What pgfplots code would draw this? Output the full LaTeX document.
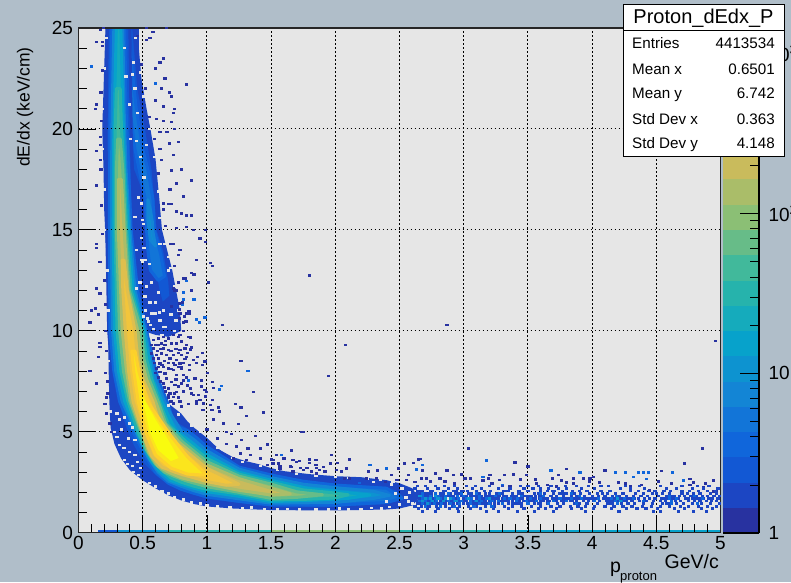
\documentclass[border=0pt]{standalone}
\usepackage{fontspec}
\setmainfont{Liberation Sans}
\usepackage{pgfplots}
\pgfplotsset{compat=1.18}
\definecolor{pagebg}{RGB}{176,190,201}
\definecolor{plotbg}{RGB}{230,230,230}
\definecolor{L1}{RGB}{40,50,160}
\definecolor{L2}{RGB}{28,70,195}
\definecolor{L3}{RGB}{18,88,212}
\definecolor{L4}{RGB}{16,102,219}
\definecolor{L5}{RGB}{18,117,216}
\definecolor{L6}{RGB}{19,133,213}
\definecolor{L7}{RGB}{13,147,208}
\definecolor{L8}{RGB}{7,162,203}
\definecolor{L9}{RGB}{21,171,188}
\definecolor{L10}{RGB}{38,179,172}
\definecolor{L11}{RGB}{65,185,155}
\definecolor{L12}{RGB}{103,188,136}
\definecolor{L13}{RGB}{139,191,117}
\definecolor{L14}{RGB}{170,189,105}
\definecolor{L15}{RGB}{201,187,92}
\definecolor{L16}{RGB}{223,191,77}
\definecolor{L17}{RGB}{242,197,60}
\definecolor{L18}{RGB}{253,208,44}
\definecolor{L19}{RGB}{251,229,29}
\definecolor{L20}{RGB}{249,251,14}
\pgfdeclareplotmark{bin}{\pgfpathrectangle{\pgfpoint{-1.6pt}{-1.25pt}}{\pgfpoint{3.2pt}{2.5pt}}\pgfusepathqfill}
\pgfplotsset{band/.style 2 args={fill=#1,draw=#2,line width=3pt,line join=round}}
\begin{document}
\begin{tikzpicture}[x=1pt,y=1pt]
\useasboundingbox (0,0) rectangle (791,582);
\clip (0,0) rectangle (791,582);
\fill[pagebg] (0,0) rectangle (791,582);
\begin{axis}[
  at={(78.5pt,49.3pt)},anchor=south west,scale only axis,width=642pt,height=504.7pt,
  xmin=0,xmax=5,ymin=0,ymax=25,
  axis background/.style={fill=plotbg},
  axis on top,
  xtick={0,0.5,...,5},ytick={0,5,...,25},
  xticklabels={0,0.5,1,1.5,2,2.5,3,3.5,4,4.5,5},
  yticklabels={0,5,10,15,20,25},
  minor x tick num=4,minor y tick num=4,
  xtick pos=bottom,ytick pos=left,tick align=inside,
  major tick length=17.5pt,minor tick length=8.5pt,
  tick style={black,line width=0.8pt},
  axis line style={black!85,line width=1.4pt},
  xmajorgrids,ymajorgrids,
  grid style={black,line width=1.1pt,dash pattern=on 1.3pt off 2.7pt},
  tick label style={font=\fontsize{19}{19}\selectfont},
  yticklabel style={xshift=-2pt},
  /pgf/number format/assume math mode=true,
]
% underflow row along y=0
\addplot[line width=2.2pt,L3] coordinates {(0.15,0.06)(0.3,0.06)};
\addplot[line width=2.2pt,L7] coordinates {(0.3,0.06)(0.7,0.06)};
\addplot[line width=2.2pt,L10] coordinates {(0.7,0.06)(1.5,0.06)};
\addplot[line width=2.2pt,L13] coordinates {(1.5,0.06)(2.5,0.06)};
\addplot[line width=2.2pt,L10] coordinates {(2.5,0.06)(3.2,0.06)};
\addplot[line width=2.2pt,L8] coordinates {(3.2,0.06)(5,0.06)};
% outer level, main band
\addplot[fill=L2,draw=none] coordinates {(0.21,25)(0.195,22)(0.185,20)(0.195,18)(0.20,16)(0.215,14)(0.225,12)(0.23,10)(0.235,8)(0.24,6.5)(0.25,5.2)(0.28,4.4)(0.33,3.7)(0.40,3.1)(0.5,2.6)(0.6,2.2)(0.7,1.85)(0.8,1.6)(0.9,1.42)(1.0,1.3)(1.2,1.2)(1.5,1.12)(2,1.1)(2.4,1.15)(2.5,1.2)(2.6,1.35)(2.65,1.7)(2.6,2.2)(2.5,2.45)(2.4,2.6)(2.2,2.75)(2.0,2.8)(1.8,2.9)(1.6,3.05)(1.5,3.2)(1.4,3.4)(1.3,3.55)(1.2,3.75)(1.1,4.1)(1.0,4.7)(0.9,5.2)(0.85,5.5)(0.8,5.9)(0.72,6.3)(0.66,6.7)(0.61,7.0)(0.57,8.2)(0.53,10)(0.50,12)(0.47,13.5)(0.47,15)(0.47,25)} -- cycle;
% outer level, second band
\addplot[fill=L2,draw=none] coordinates {(0.35,25)(0.44,25)(0.47,24)(0.49,22.5)(0.53,21)(0.56,20)(0.60,18.5)(0.63,16.5)(0.65,15)(0.69,14)(0.73,13)(0.76,12)(0.79,11)(0.80,10)(0.70,9.7)(0.60,9.8)(0.50,10)(0.45,13)} -- cycle;
% second band, inner levels
\addplot[band={L3}{L2}] coordinates {(0.36,25)(0.43,25)(0.47,22)(0.53,20)(0.58,18)(0.61,16)(0.62,15)(0.67,14)(0.71,12.5)(0.72,11.7)(0.65,11.3)(0.62,12)(0.56,14)(0.52,15.5)(0.48,17)(0.42,18)} -- cycle;
\addplot[band={L5}{L4}] coordinates {(0.40,24)(0.45,21)(0.50,19)(0.54,18)(0.58,16.5)(0.59,15)(0.64,13.8)(0.67,12.7)(0.62,12.5)(0.56,13)(0.54,14)(0.53,15)(0.52,16.5)(0.44,19)(0.38,22)} -- cycle;
\addplot[band={L7}{L6}] coordinates {(0.54,16.5)(0.56,16)(0.575,15.4)(0.58,14.9)(0.60,14.2)(0.56,14.5)(0.54,15.5)} -- cycle;
% holes in the sparse parts
\addplot[only marks,mark=bin,color=plotbg] coordinates {
(0.32,4.34)(0.40,4.0)(0.36,3.6)(0.44,3.85)(0.48,3.2)(0.39,4.67)(0.44,4.6)(0.336,5.1)(0.40,5.4)(0.32,5.6)(0.30,5.9)(0.30,4.75)(0.60,2.28)(0.355,4.2)(0.38,3.4)(0.42,3.3)(0.46,3.5)(0.36,5.7)(0.42,5.2)(0.28,5.0)
(.492,16.3)(.44,15.65)(.505,15.3)(.453,14.0)(.492,13.5)(.518,13.5)(.479,12.4)(.453,12.1)(.518,11.7)(.557,11.4)(.57,10.86)(.505,10.7)(.544,10.45)(.583,10.1)(.596,10.86)(.635,10.5)(.66,10.2)(.70,13.0)(.70,13.66)(.635,14.3)
(0.50,15.5)(0.49,14.6)(0.51,14.1)(0.47,16.6)(0.53,12.2)(0.55,13.3)(0.50,13.4)(0.52,11.0)(0.56,10.3)(0.54,10.6)(0.63,10.9)(0.68,10.2)(0.72,10.8)(0.76,10.5)(0.66,11.0)(0.60,11.4)(0.57,12.4)(0.62,11.9)
(0.48,18.6)(0.51,17.6)(0.45,19.4)(0.53,19.2)(0.46,20.8)(0.44,22.0)(0.42,22.7)(0.37,22.6)(0.36,24.0)(0.43,23.3)(0.405,19.5)(0.40,21.2)
(.445,24.5)(.48,22.8)(.51,21.6)(.55,20.0)(.59,18.6)(.62,16.9)(.63,15.6)(.67,14.3)(.72,13.1)(.75,12.2)(.78,11)(.75,10)(.65,9.8)
(0.245,6)(0.235,8.5)(0.23,11)(0.222,13)(0.205,15)(0.2,17)(0.19,19)(0.19,21)(0.2,23)(0.215,24.5)
(1.08,4.2)(1.2,3.7)(1.28,3.5)(1.42,3.3)(1.55,3.1)(1.7,2.9)(1.85,2.82)(2.0,2.75)(2.1,2.7)(2.25,2.68)(2.35,2.62)(2.45,2.5)(0.95,5.0)(0.88,5.3)(0.78,5.85)(0.7,6.3)
(1.18,1.25)(1.08,1.3)(1.0,1.36)(0.95,1.45)(0.88,1.5)(0.82,1.65)(0.75,1.75)(0.7,1.95)(0.65,2.05)(0.6,2.3)(0.55,2.45)(0.47,2.85)(0.43,3.0)(1.28,1.2)(1.35,1.25)(1.45,1.18)(1.55,1.15)(1.63,1.18)(1.72,1.14)(1.85,1.15)(1.95,1.14)(2.03,1.2)(2.1,1.14)(2.2,1.15)(2.28,1.22)(2.36,1.2)
};
% dark cells
\addplot[only marks,mark=bin,color=L1] coordinates {
(.92,13.5)(1.025,13.37)(1.045,13.2)(.88,12.87)(.90,12.8)(.82,12.6)(1.01,12.4)(.88,12.0)(.765,12.0)(.74,12.1)(.785,11.05)(.86,10.95)(.86,10.85)(.825,10.7)(.837,10.45)(1.12,10.3)(.785,10.6)(.82,10.0)(.855,9.7)(.87,9.67)(.79,9.8)(.965,8.9)(.925,8.7)(.985,8.47)(1.266,8.5)(.92,8.4)(.965,8.3)(.864,8.3)(1.006,7.9)(.864,8.05)(.80,8.2)(.78,8.2)(.817,8.4)(.907,7.65)(.96,7.55)(.817,7.55)(.88,9.18)(.843,9.3)(.87,9.08)(.895,8.55)(1.045,7.47)(1.05,7.18)(1.362,6.98)(.985,7.06)(.998,6.98)(.96,7.23)(.87,7.15)(.817,7.0)(1.045,6.57)(1.225,6.37)(1.266,6.2)(1.09,6.2)(1.025,6.32)(.972,6.4)(.92,6.5)(.947,6.57)(.895,6.82)(.933,6.82)(.855,6.37)(.80,6.24)(.74,6.73)(.70,6.82)
(.583,9.54)(.622,9.62)(.66,9.7)(.70,9.62)(.74,9.79)(.778,9.7)(.57,9.29)(.648,9.37)(.674,9.29)(.726,9.37)(.765,9.37)(.804,9.46)(.83,9.13)(.583,9.13)(.66,9.13)(.70,9.04)(.79,9.04)(.57,8.88)(.609,8.8)(.648,8.88)(.687,8.8)(.74,8.8)(.804,8.8)(.843,8.7)(.583,8.63)(.622,8.63)(.713,8.63)(.765,8.55)(.79,8.38)(.752,8.3)(.804,8.14)(.635,8.38)(.66,8.22)(.70,8.14)(.74,8.05)(.609,8.14)(.635,7.97)(.674,7.89)(.765,7.8)(.687,7.64)(.726,7.47)(.752,7.31)(.66,7.4)(.70,7.15)(.778,7.23)(.804,7.4)(.713,6.9)(.765,6.98)(.74,6.4)(.79,6.49)
(.60,9.3)(.615,9.0)(.59,8.4)(.60,7.9)(.62,7.7)(.64,7.5)(.67,7.2)(.68,7.0)(.70,6.7)(.72,6.5)(.745,6.9)(.78,6.7)(.76,7.6)(.82,7.8)(.84,7.7)(.85,7.3)(.83,8.6)(.85,8.9)(.78,8.9)(.76,9.1)(.68,9.5)(.62,9.3)(.64,9.1)(.72,9.0)(.74,8.4)(.72,8.1)(.70,8.4)(.67,8.5)(.65,8.3)(.62,8.2)
(.66,16.3)(.70,16.27)(.726,16.27)(.765,15.9)(.80,15.8)(.843,15.7)(.88,15.7)(.765,15.1)(.843,15.15)(.895,15.0)(.986,15.0)(.947,14.57)(.986,14.4)(.74,14.3)(.79,14.0)(.778,13.75)(.92,13.5)(1.025,13.37)(1.045,13.2)(.83,12.6)(.90,12.8)(.88,12.0)(.75,12.0)(.79,11.35)(.843,10.86)(.726,11.2)(.79,10.86)
(.167,13.4)(.14,14.3)(.14,14.1)(.10,11.0)(.13,11.1)(.09,10.4)(.155,10.8)(.21,11.3)(.167,11.85)(.14,12.1)(.167,9.4)(.167,9.2)(.155,8.7)(.09,8.0)(.14,7.4)(.21,7.9)
(.17,24.9)(.14,24.3)(.19,24.3)(.53,24.4)(.557,24.5)(.58,24.8)(.66,23.5)(.635,23.3)(.60,23.0)(.843,22.2)(.71,21.8)(.648,22.0)(.726,21.6)(.674,22.5)(.75,21.0)(.74,20.8)(.66,21.1)(.60,21.4)(.66,20.4)(.726,20.35)(.61,20.5)(.69,19.85)(.75,20.0)(.635,19.85)(.78,19.35)(.71,19.27)(.635,19.0)(.74,18.7)(.648,18.45)(.80,18.0)(.726,17.95)(.88,17.45)(.765,17.3)(.713,17.0)(.817,16.65)(.13,21.0)(.14,21.2)(.14,18.9)(.17,18.45)(.14,17.2)(.18,20.4)(.17,19.6)(.687,25)(.53,25)
(.142,7.36)(.207,6.37)(.22,5.9)(.245,5.4)(.26,5.0)(.23,6.9)(.225,7.5)
(.215,6.7)(.215,9)(.21,10)(.205,12.5)(.19,14.8)(.18,16.2)(.175,18)(.17,19.2)(.175,21.8)(.185,22.9)(.19,24.1)(.195,25)
(.46,24.6)(.49,23.2)(.52,22)(.55,20.6)(.59,19.5)(.62,17.8)(.66,16)(.68,15.2)(.72,14.3)(.75,13.2)(.78,12.4)(.81,11.4)(.82,10.4)
(1.44,5.96)(1.31,5.78)(1.245,5.38)(1.13,5.4)(1.05,5.6)(.97,6.07)(1.04,6.07)(1.10,6.0)(.92,6.4)(.986,6.74)(.88,6.9)(1.0,5.1)(1.155,5.0)(1.19,4.9)(1.27,4.6)(1.38,4.8)(1.47,4.37)(1.415,4.18)(1.32,4.18)(1.23,4.26)(1.155,4.4)(1.08,4.67)(1.66,4.05)(1.545,3.85)(1.6,3.68)(1.70,3.5)(1.75,5.0)(1.8,3.6)(1.856,3.6)(1.52,3.6)(1.415,3.68)(1.34,3.85)(1.26,3.93)(1.21,3.68)(1.31,3.6)(1.65,3.27)(1.73,3.2)(1.57,3.27)(1.78,3.2)(1.856,3.2)(1.856,2.94)(1.47,3.35)(1.67,3.02)
(1.74,4.98)(1.66,4.06)(1.54,3.84)(1.50,3.63)(1.515,3.43)(1.555,3.43)(1.607,3.68)(1.67,3.6)(1.72,3.56)(1.80,3.63)(1.80,3.46)(1.85,3.6)(1.85,3.35)(1.97,3.84)(1.96,3.43)(2.02,3.46)(2.11,3.63)(2.33,3.07)(2.26,3.02)(2.54,3.43)(2.61,3.46)(2.65,3.63)(2.49,3.18)(2.44,2.85)(2.57,2.85)(1.57,3.18)(1.66,3.26)(1.75,3.1)(1.815,3.02)(1.88,3.1)(1.92,3.02)(1.905,3.26)(2.05,3.02)(2.09,3.18)(2.01,3.1)(2.11,2.69)(2.24,2.69)(2.32,2.69)(2.39,2.52)(2.48,2.6)(2.555,2.6)(2.62,2.52)(2.07,2.69)
(1.8,12.75)(2.87,10.3)(2.08,9.3)(1.95,7.75)(4.96,9.5)(3.04,4.18)(2.66,3.65)(3.40,3.47)(3.50,3.27)(3.80,3.15)(3.74,2.86)(2.87,3.07)(2.68,3.07)(2.78,2.94)(2.92,2.86)(2.985,2.89)(3.205,2.86)(3.32,2.86)(3.39,2.89)(3.49,2.86)(3.69,2.69)(3.56,2.64)(3.01,2.69)(3.05,2.69)(3.28,2.61)(3.44,2.64)(3.76,2.58)(3.80,2.48)(2.67,2.69)(2.71,2.69)(2.815,2.69)(2.74,2.53)(2.855,2.53)(2.93,2.44)(3.15,2.58)(3.19,2.69)(3.22,2.44)(3.36,2.28)(3.57,2.44)(3.65,2.36)(3.72,2.28)
(4.86,4.18)(4.72,3.43)(4.10,3.07)(4.54,3.06)(4.01,2.77)(3.854,2.69)(3.93,2.69)(3.984,2.69)(4.06,2.48)(4.205,2.48)(4.257,2.44)(4.386,2.36)(4.516,2.53)(4.62,2.44)(4.763,2.66)(4.79,2.48)(4.88,2.44)(4.945,2.58)(3.854,2.44)(3.98,2.53)(4.30,2.28)(4.45,2.1)(4.763,2.36)(4.867,2.25)(4.945,2.03)(4.97,2.03)
};
% lighter isolated cells
\addplot[only marks,mark=bin,color=L4] coordinates {
(.843,12.48)(.817,11.9)(.817,11.55)(.90,11.55)(.81,11.27)(.92,10.56)(.985,10.66)(.94,10.4)(1.32,8.0)(.855,7.55)(1.115,7.26)(1.10,7.1)(.10,23.1)(.60,22.25)(1.58,3.84)(2.27,3.35)(2.19,2.47)(2.40,3.18)(2.63,3.13)(2.68,3.35)(3.18,3.57)(3.15,2.77)(3.30,2.36)(3.68,3.07)(3.906,2.97)(4.18,2.97)(4.257,2.97)(4.36,2.97)(4.40,2.97)(4.44,2.97)(4.625,2.97)(4.32,2.77)(4.71,2.58)(4.425,2.66)
};
% tail, dark
\addplot[only marks,mark=bin,color=L2] coordinates {
(2.64,2.31)(2.70,2.31)(2.78,2.31)(2.85,2.31)(2.93,2.31)(3.02,2.31)(3.09,2.31)(3.20,2.31)(3.30,2.31)(3.44,2.31)(3.50,2.31)(3.58,2.31)(3.68,2.31)(3.79,2.31)(3.88,2.31)(3.97,2.31)(4.07,2.31)(4.13,2.31)(4.26,2.31)(4.37,2.31)(4.53,2.31)(4.70,2.31)(4.82,2.31)(4.91,2.31)
(2.62,2.19)(2.72,2.19)(2.80,2.19)(2.88,2.19)(2.95,2.19)(3.07,2.19)(3.14,2.19)(3.27,2.19)(3.36,2.19)(3.47,2.19)(3.54,2.19)(3.60,2.19)(3.66,2.19)(3.74,2.19)(3.80,2.19)(3.92,2.19)(4.02,2.19)(4.22,2.19)(4.30,2.19)(4.41,2.19)(4.58,2.19)(4.66,2.19)(4.78,2.19)(4.87,2.19)(4.98,2.19)
(2.64,2.06)(2.68,2.06)(2.76,2.06)(2.86,2.06)(2.94,2.06)(2.98,2.06)(3.03,2.06)(3.10,2.06)(3.16,2.06)(3.21,2.06)(3.31,2.06)(3.35,2.06)(3.43,2.06)(3.50,2.06)(3.60,2.06)(3.65,2.06)(3.71,2.06)(3.77,2.06)(3.85,2.06)(3.90,2.06)(3.96,2.06)(4.07,2.06)(4.14,2.06)(4.30,2.06)(4.36,2.06)(4.44,2.06)(4.49,2.06)(4.56,2.06)(4.61,2.06)(4.70,2.06)(4.76,2.06)(4.83,2.06)(4.90,2.06)(4.96,2.06)
(2.62,1.94)(2.66,1.94)(2.70,1.94)(2.75,1.94)(2.84,1.94)(2.90,1.94)(2.96,1.94)(3.06,1.94)(3.12,1.94)(3.17,1.94)(3.26,1.94)(3.30,1.94)(3.38,1.94)(3.43,1.94)(3.46,1.94)(3.55,1.94)(3.58,1.94)(3.63,1.94)(3.70,1.94)(3.75,1.94)(3.80,1.94)(3.86,1.94)(3.91,1.94)(3.98,1.94)(4.04,1.94)(4.08,1.94)(4.12,1.94)(4.18,1.94)(4.24,1.94)(4.34,1.94)(4.40,1.94)(4.47,1.94)(4.50,1.94)(4.55,1.94)(4.60,1.94)(4.70,1.94)(4.74,1.94)(4.79,1.94)(4.84,1.94)(4.92,1.94)(4.97,1.94)
(2.64,1.81)(2.72,1.81)(2.78,1.81)(2.82,1.81)(2.88,1.81)(2.92,1.81)(2.98,1.81)(3.02,1.81)(3.08,1.81)(3.14,1.81)(3.19,1.81)(3.23,1.81)(3.28,1.81)(3.33,1.81)(3.37,1.81)(3.41,1.81)(3.48,1.81)(3.53,1.81)(3.56,1.81)(3.61,1.81)(3.68,1.81)(3.72,1.81)(3.78,1.81)(3.84,1.81)(3.88,1.81)(3.94,1.81)(4.00,1.81)(4.05,1.81)(4.10,1.81)(4.16,1.81)(4.21,1.81)(4.27,1.81)(4.32,1.81)(4.38,1.81)(4.43,1.81)(4.52,1.81)(4.58,1.81)(4.64,1.81)(4.68,1.81)(4.72,1.81)(4.77,1.81)(4.81,1.81)(4.86,1.81)(4.90,1.81)(4.95,1.81)(4.99,1.81)
(2.66,1.69)(2.70,1.69)(2.76,1.69)(2.80,1.69)(2.84,1.69)(2.90,1.69)(2.94,1.69)(3.00,1.69)(3.04,1.69)(3.10,1.69)(3.15,1.69)(3.20,1.69)(3.25,1.69)(3.30,1.69)(3.34,1.69)(3.39,1.69)(3.44,1.69)(3.50,1.69)(3.54,1.69)(3.59,1.69)(3.63,1.69)(3.69,1.69)(3.73,1.69)(3.77,1.69)(3.82,1.69)(3.86,1.69)(3.90,1.69)(3.94,1.69)(3.99,1.69)(4.03,1.69)(4.09,1.69)(4.13,1.69)(4.17,1.69)(4.22,1.69)(4.26,1.69)(4.30,1.69)(4.36,1.69)(4.41,1.69)(4.45,1.69)(4.49,1.69)(4.54,1.69)(4.59,1.69)(4.63,1.69)(4.67,1.69)(4.73,1.69)(4.78,1.69)(4.82,1.69)(4.87,1.69)(4.91,1.69)(4.94,1.69)(4.98,1.69)
(2.62,1.56)(2.67,1.56)(2.72,1.56)(2.77,1.56)(2.82,1.56)(2.87,1.56)(2.91,1.56)(2.97,1.56)(3.02,1.56)(3.07,1.56)(3.12,1.56)(3.17,1.56)(3.24,1.56)(3.28,1.56)(3.33,1.56)(3.38,1.56)(3.43,1.56)(3.47,1.56)(3.52,1.56)(3.56,1.56)(3.62,1.56)(3.67,1.56)(3.72,1.56)(3.76,1.56)(3.83,1.56)(3.88,1.56)(3.93,1.56)(3.97,1.56)(4.01,1.56)(4.06,1.56)(4.11,1.56)(4.15,1.56)(4.20,1.56)(4.25,1.56)(4.31,1.56)(4.37,1.56)(4.42,1.56)(4.48,1.56)(4.53,1.56)(4.57,1.56)(4.65,1.56)(4.69,1.56)(4.75,1.56)(4.80,1.56)(4.84,1.56)(4.89,1.56)(4.93,1.56)(4.97,1.56)
(2.64,1.44)(2.69,1.44)(2.74,1.44)(2.79,1.44)(2.86,1.44)(2.92,1.44)(2.95,1.44)(3.00,1.44)(3.06,1.44)(3.11,1.44)(3.16,1.44)(3.21,1.44)(3.27,1.44)(3.35,1.44)(3.40,1.44)(3.45,1.44)(3.55,1.44)(3.60,1.44)(3.65,1.44)(3.73,1.44)(3.78,1.44)(3.86,1.44)(3.90,1.44)(3.96,1.44)(4.04,1.44)(4.12,1.44)(4.16,1.44)(4.23,1.44)(4.28,1.44)(4.33,1.44)(4.40,1.44)(4.47,1.44)(4.55,1.44)(4.60,1.44)(4.66,1.44)(4.71,1.44)(4.78,1.44)(4.85,1.44)(4.92,1.44)(4.99,1.44)
(2.62,1.31)(2.67,1.31)(2.73,1.31)(2.79,1.31)(2.86,1.31)(2.91,1.31)(2.97,1.31)(3.04,1.31)(3.10,1.31)(3.17,1.31)(3.24,1.31)(3.32,1.31)(3.38,1.31)(3.45,1.31)(3.53,1.31)(3.60,1.31)(3.68,1.31)(3.75,1.31)(3.83,1.31)(3.89,1.31)(3.95,1.31)(4.02,1.31)(4.10,1.31)(4.17,1.31)(4.24,1.31)(4.31,1.31)(4.39,1.31)(4.46,1.31)(4.53,1.31)(4.60,1.31)(4.69,1.31)(4.75,1.31)(4.83,1.31)(4.90,1.31)(4.97,1.31)
(2.65,1.19)(2.72,1.19)(2.80,1.19)(2.89,1.19)(2.95,1.19)(3.05,1.19)(3.13,1.19)(3.23,1.19)(3.35,1.19)(3.47,1.19)(3.58,1.19)(3.64,1.19)(3.72,1.19)(3.84,1.19)(3.92,1.19)(4.01,1.19)(4.15,1.19)(4.27,1.19)(4.35,1.19)(4.42,1.19)(4.51,1.19)(4.64,1.19)(4.72,1.19)(4.85,1.19)(4.94,1.19)
(2.68,1.06)(2.78,1.06)(2.96,1.06)(3.18,1.06)(3.27,1.06)(3.42,1.06)(3.55,1.06)(3.70,1.06)(3.95,1.06)(4.21,1.06)(4.48,1.06)(4.53,1.06)(4.67,1.06)(4.79,1.06)(4.89,1.06)
(2.68,1.69)(2.72,1.69)(2.78,1.69)(2.86,1.69)(2.92,1.69)(2.96,1.69)(3.02,1.69)(3.06,1.69)(3.12,1.69)(3.17,1.69)(3.22,1.69)(3.27,1.69)(3.32,1.69)(3.36,1.69)(3.41,1.69)(3.46,1.69)(3.52,1.69)(3.56,1.69)(3.61,1.69)(3.65,1.69)(3.71,1.69)(3.75,1.69)(3.79,1.69)(3.84,1.69)(3.88,1.69)(3.92,1.69)(3.96,1.69)(4.01,1.69)(4.05,1.69)(4.11,1.69)(4.15,1.69)(4.19,1.69)(4.24,1.69)(4.28,1.69)(4.33,1.69)(4.56,1.69)(4.61,1.69)(4.65,1.69)(4.75,1.69)(4.80,1.69)(4.84,1.69)
(2.64,1.56)(2.69,1.56)(2.74,1.56)(2.79,1.56)(2.85,1.56)(2.89,1.56)(2.95,1.56)(3.00,1.56)(3.05,1.56)(3.10,1.56)(3.15,1.56)(3.20,1.56)(3.30,1.56)(3.35,1.56)(3.41,1.56)(3.50,1.56)(3.54,1.56)(3.60,1.56)(3.65,1.56)(3.70,1.56)(3.78,1.56)(3.85,1.56)(4.13,1.56)(4.17,1.56)(4.22,1.56)(4.27,1.56)
(2.66,1.44)(2.71,1.44)(2.76,1.44)(2.81,1.44)(2.84,1.44)(2.89,1.44)(2.97,1.44)(3.03,1.44)(3.08,1.44)(3.14,1.44)(3.18,1.44)(3.24,1.44)(3.30,1.44)(3.38,1.44)(3.43,1.44)(3.58,1.44)(4.14,1.44)(4.58,1.44)
(2.66,1.81)(2.70,1.81)(2.75,1.81)(2.84,1.81)(2.90,1.81)(2.95,1.81)(3.05,1.81)(3.11,1.81)(3.17,1.81)(3.21,1.81)(3.26,1.81)(3.31,1.81)(3.39,1.81)(3.46,1.81)(3.50,1.81)(3.59,1.81)(4.19,1.81)(4.62,1.81)(4.79,1.81)
(2.64,1.94)(2.68,1.94)(2.73,1.94)(2.82,1.94)(2.88,1.94)(2.94,1.94)(3.04,1.94)(3.10,1.94)(3.20,1.94)(3.60,1.94)(3.78,1.94)
(2.66,2.06)(2.74,2.06)(2.84,2.06)(2.92,2.06)(3.00,2.06)(3.33,2.06)(3.69,2.06)
};
\addplot[only marks,mark=bin,color=L4] coordinates {
(2.68,1.69)(2.72,1.69)(2.74,1.69)(2.78,1.69)(2.82,1.69)(2.86,1.69)(2.92,1.69)(2.96,1.69)(3.02,1.69)(3.06,1.69)(3.12,1.69)(3.18,1.69)(3.32,1.69)(3.36,1.69)(3.42,1.69)(3.52,1.69)(3.60,1.69)(3.75,1.69)(3.84,1.69)(3.92,1.69)(4.05,1.69)(4.15,1.69)(4.20,1.69)(4.25,1.69)(4.32,1.69)(4.60,1.69)(4.66,1.69)(4.86,1.69)
(2.66,1.56)(2.70,1.56)(2.75,1.56)(2.79,1.56)(2.84,1.56)(2.88,1.56)(2.93,1.56)(2.98,1.56)(3.05,1.56)(3.09,1.56)(3.14,1.56)(3.22,1.56)(3.27,1.56)(3.41,1.56)(3.49,1.56)(3.57,1.56)(3.70,1.56)(3.80,1.56)(4.02,1.56)(4.18,1.56)(4.23,1.56)(4.40,1.56)(4.62,1.56)
(2.68,1.81)(2.74,1.81)(2.80,1.81)(2.86,1.81)(2.95,1.81)(3.00,1.81)(3.12,1.81)(3.25,1.81)(3.45,1.81)(3.62,1.81)(3.90,1.81)(4.19,1.81)(4.60,1.81)(4.80,1.81)
(2.68,1.44)(2.73,1.44)(2.77,1.44)(2.83,1.44)(2.90,1.44)(2.97,1.44)(3.05,1.44)(3.12,1.44)(3.20,1.44)(3.30,1.44)(3.50,1.44)(3.66,1.44)(3.88,1.44)(4.20,1.44)(4.62,1.44)(4.82,1.44)
(2.68,1.94)(2.78,1.94)(2.88,1.94)(2.98,1.94)(3.10,1.94)(3.28,1.94)(3.60,1.94)(3.84,1.94)(2.70,1.31)(2.82,1.31)(2.93,1.31)(3.08,1.31)(3.22,1.31)
};
\addplot[only marks,mark=bin,color=L7] coordinates {
(2.70,1.69)(2.74,1.69)(2.76,1.56)(2.80,1.69)(2.84,1.56)(2.86,1.69)(2.78,1.81)(2.90,1.69)(2.94,1.56)(2.72,1.44)(3.04,1.69)(3.10,1.56)(3.20,1.69)(4.20,1.69)(4.22,1.56)(2.66,1.81)(2.68,1.56)
};
% main band
\addplot[band={L3}{L2}] coordinates {(0.225,25)(0.215,20)(0.22,15)(0.235,10)(0.26,8)(0.30,6.5)(0.36,5.2)(0.42,4.3)(0.5,3.4)(0.6,2.75)(0.7,2.3)(0.8,2.0)(0.9,1.8)(1.0,1.6)(1.25,1.4)(1.5,1.25)(2.0,1.2)(2.4,1.35)(2.5,1.55)(2.55,1.8)(2.48,2.15)(2.4,2.35)(2.0,2.5)(1.75,2.65)(1.5,2.98)(1.25,3.35)(1.0,4.45)(0.93,4.85)(0.85,5.25)(0.75,5.6)(0.70,6.2)(0.62,7.3)(0.56,8.6)(0.53,10)(0.48,12)(0.44,14)(0.43,15)(0.42,17)(0.41,20)(0.40,25)} -- cycle;
\addplot[band={L5}{L4}] coordinates {(0.26,25)(0.245,20)(0.24,15)(0.245,10)(0.275,8)(0.32,6.5)(0.40,5.3)(0.465,4.5)(0.53,3.7)(0.6,3.0)(0.7,2.45)(0.8,2.15)(0.9,1.95)(1.0,1.78)(1.25,1.55)(1.5,1.37)(2.0,1.37)(2.4,1.5)(2.52,1.7)(2.4,2.2)(2.0,2.36)(1.75,2.55)(1.5,2.86)(1.25,3.25)(1.0,4.26)(0.92,4.7)(0.85,5.05)(0.75,5.3)(0.69,6.5)(0.62,7.6)(0.58,8.6)(0.53,10)(0.46,12)(0.41,15)(0.39,18)(0.37,21)(0.36,25)} -- cycle;
\addplot[band={L7}{L6}] coordinates {(0.275,25)(0.26,20)(0.255,15)(0.265,10)(0.29,8)(0.34,6.5)(0.44,5.1)(0.475,4.6)(0.545,3.7)(0.62,3.0)(0.7,2.55)(0.8,2.3)(0.9,2.08)(1,1.9)(1.25,1.68)(1.5,1.46)(2,1.5)(2.3,1.7)(2.42,1.85)(2.3,2.05)(2,2.23)(1.75,2.4)(1.5,2.73)(1.25,3.15)(1,4.05)(0.9,4.6)(0.8,5.05)(0.72,5.85)(0.67,6.5)(0.6,7.6)(0.56,8.6)(0.52,10)(0.44,12)(0.40,15)(0.37,18)(0.355,21)(0.345,25)} -- cycle;
\addplot[band={L9}{L8}] coordinates {(0.295,25)(0.275,20)(0.27,15)(0.28,10)(0.31,8)(0.36,6.5)(0.455,5.0)(0.49,4.5)(0.56,3.6)(0.63,3.05)(0.72,2.58)(0.8,2.4)(0.9,2.2)(1,2.03)(1.25,1.8)(1.5,1.54)(1.8,1.6)(2.1,1.7)(2.27,1.87)(2.1,1.98)(1.8,2.18)(1.5,2.6)(1.25,3.0)(1,3.85)(0.865,4.55)(0.75,5.1)(0.65,6.5)(0.58,7.6)(0.55,8.6)(0.51,10)(0.425,12)(0.39,15)(0.36,18)(0.345,21)(0.33,25)} -- cycle;
\addplot[band={L11}{L10}] coordinates {(0.295,22)(0.285,20)(0.285,15)(0.30,10)(0.33,8)(0.385,6.5)(0.47,4.9)(0.51,4.3)(0.58,3.55)(0.65,3.1)(0.72,2.72)(0.8,2.5)(0.9,2.3)(1,2.15)(1.25,1.92)(1.5,1.62)(1.75,1.65)(2.0,1.72)(2.1,1.88)(1.95,2.0)(1.75,2.12)(1.5,2.5)(1.25,2.9)(1,3.68)(0.84,4.5)(0.7,5.35)(0.63,6.5)(0.57,7.6)(0.53,8.6)(0.5,10)(0.41,12)(0.375,15)(0.355,18)(0.335,20)(0.325,22)} -- cycle;
\addplot[band={L13}{L12}] coordinates {(0.305,19.5)(0.295,18)(0.295,15)(0.32,10)(0.35,8)(0.40,6.5)(0.495,4.84)(0.53,4.1)(0.6,3.4)(0.67,3.0)(0.75,2.78)(0.85,2.55)(1,2.28)(1.25,2.0)(1.5,1.7)(1.7,1.75)(1.9,1.88)(1.7,2.02)(1.5,2.41)(1.25,2.8)(1,3.52)(0.81,4.5)(0.68,5.4)(0.62,6.5)(0.55,7.6)(0.51,8.6)(0.49,10)(0.395,12)(0.365,15)(0.345,18)(0.325,19.5)} -- cycle;
\addplot[band={L15}{L14}] coordinates {(0.31,17.5)(0.31,15)(0.34,10)(0.375,8)(0.41,6.5)(0.51,4.72)(0.55,3.95)(0.62,3.3)(0.7,3.0)(0.8,2.72)(1,2.42)(1.25,2.1)(1.5,1.87)(1.65,1.92)(1.5,2.2)(1.25,2.68)(1,3.35)(0.78,4.5)(0.66,5.5)(0.6,6.5)(0.53,7.6)(0.49,8.6)(0.46,10)(0.385,12)(0.355,15)(0.335,17.5)} -- cycle;
\addplot[band={L17}{L16}] coordinates {(0.34,13.5)(0.345,12)(0.365,10)(0.39,8)(0.425,6.5)(0.52,4.6)(0.57,3.8)(0.65,3.25)(0.75,3.0)(1,2.53)(1.15,2.35)(1.25,2.4)(1,3.19)(0.76,4.45)(0.62,5.6)(0.58,6.5)(0.5,7.6)(0.46,8.6)(0.44,10)(0.38,12)(0.355,13.5)} -- cycle;
\addplot[band={L19}{L18}] coordinates {(0.415,9)(0.43,8)(0.465,6.5)(0.53,4.9)(0.6,3.85)(0.72,3.2)(0.85,2.9)(1,2.85)(0.85,3.75)(0.72,4.8)(0.6,5.9)(0.54,6.5)(0.47,8)(0.44,9)} -- cycle;
\addplot[fill=L20,draw=none] coordinates {(0.49,6.8)(0.52,6.0)(0.555,5.0)(0.62,4.1)(0.72,3.55)(0.78,3.7)(0.68,4.8)(0.6,5.6)(0.53,6.4)} -- cycle;
% gaps at the far end of the band
\addplot[only marks,mark=bin,color=plotbg] coordinates {
(2.50,1.40)(2.55,1.75)(2.58,2.0)(2.52,2.2)(2.44,2.4)(2.30,2.5)(2.57,1.55)(2.42,1.28)(2.47,1.95)(2.40,1.55)(2.60,1.45)
};
\end{axis}
% colour bar
\begin{axis}[
  at={(723pt,49pt)},anchor=south west,scale only axis,width=36pt,height=505pt,
  ymode=log,xmin=0,xmax=1,ymin=1,ymax=1445,
  axis y line*=right,axis x line*=bottom,
  xtick=\empty,
  ytick={1,10,100,1000},yticklabels={1,10,10\textsuperscript{2},10\textsuperscript{3}},
  minor ytick={2,3,4,5,6,7,8,9,20,30,40,50,60,70,80,90,200,300,400,500,600,700,800,900},
  tick align=inside,major tick length=19pt,minor tick length=9.5pt,
  tick style={black,line width=0.8pt},
  axis line style={black,line width=1.2pt},
  tick label style={font=\fontsize{19}{19}\selectfont},
  yticklabel style={anchor=west,xshift=6pt},
  axis on top,
  /pgf/number format/assume math mode=true,
]
\addplot[fill=L1,draw=none] coordinates {(0,1)(1,1)(1,1.439)(0,1.439)} -- cycle;
\addplot[fill=L2,draw=none] coordinates {(0,1.439)(1,1.439)(1,2.07)(0,2.07)} -- cycle;
\addplot[fill=L3,draw=none] coordinates {(0,2.07)(1,2.07)(1,2.98)(0,2.98)} -- cycle;
\addplot[fill=L4,draw=none] coordinates {(0,2.98)(1,2.98)(1,4.29)(0,4.29)} -- cycle;
\addplot[fill=L5,draw=none] coordinates {(0,4.29)(1,4.29)(1,6.17)(0,6.17)} -- cycle;
\addplot[fill=L6,draw=none] coordinates {(0,6.17)(1,6.17)(1,8.87)(0,8.87)} -- cycle;
\addplot[fill=L7,draw=none] coordinates {(0,8.87)(1,8.87)(1,12.8)(0,12.8)} -- cycle;
\addplot[fill=L8,draw=none] coordinates {(0,12.8)(1,12.8)(1,18.4)(0,18.4)} -- cycle;
\addplot[fill=L9,draw=none] coordinates {(0,18.4)(1,18.4)(1,26.4)(0,26.4)} -- cycle;
\addplot[fill=L10,draw=none] coordinates {(0,26.4)(1,26.4)(1,38)(0,38)} -- cycle;
\addplot[fill=L11,draw=none] coordinates {(0,38)(1,38)(1,54.7)(0,54.7)} -- cycle;
\addplot[fill=L12,draw=none] coordinates {(0,54.7)(1,54.7)(1,78.7)(0,78.7)} -- cycle;
\addplot[fill=L13,draw=none] coordinates {(0,78.7)(1,78.7)(1,113)(0,113)} -- cycle;
\addplot[fill=L14,draw=none] coordinates {(0,113)(1,113)(1,163)(0,163)} -- cycle;
\addplot[fill=L15,draw=none] coordinates {(0,163)(1,163)(1,234)(0,234)} -- cycle;
\addplot[fill=L16,draw=none] coordinates {(0,234)(1,234)(1,337)(0,337)} -- cycle;
\addplot[fill=L17,draw=none] coordinates {(0,337)(1,337)(1,485)(0,485)} -- cycle;
\addplot[fill=L18,draw=none] coordinates {(0,485)(1,485)(1,698)(0,698)} -- cycle;
\addplot[fill=L19,draw=none] coordinates {(0,698)(1,698)(1,1004)(0,1004)} -- cycle;
\addplot[fill=L20,draw=none] coordinates {(0,1004)(1,1004)(1,1445)(0,1445)} -- cycle;
\end{axis}
% axis titles
\node[rotate=90,anchor=east,font=\fontsize{17.5}{17.5}\selectfont,inner sep=0pt] at (25,535) {dE/dx (keV/cm)};
\node[anchor=base east,font=\fontsize{19.5}{19.5}\selectfont,inner sep=0pt] at (719,14) {GeV/c};
\node[anchor=base west,font=\fontsize{19.5}{19.5}\selectfont,inner sep=0pt] at (610,10) {p};
\node[anchor=base west,font=\fontsize{13}{13}\selectfont,inner sep=0pt] at (620,2) {proton};
% statistics box
\fill[white] (623,425) rectangle (784,577);
\draw[black,line width=1pt] (623,425) rectangle (784,577);
\draw[black,line width=1pt] (623,551) -- (784,551);
\node[font=\fontsize{20}{20}\selectfont,inner sep=0pt] at (703.5,564) {Proton\_dEdx\_P};
\begin{scope}[every node/.style={font=\fontsize{15.2}{15.2}\selectfont,inner sep=0pt}]
\node[anchor=base west] at (632,533) {Entries};
\node[anchor=base east] at (775,533) {4413534};
\node[anchor=base west] at (632,507) {Mean x};
\node[anchor=base east] at (775,507) {0.6501};
\node[anchor=base west] at (632,483) {Mean y};
\node[anchor=base east] at (775,483) {6.742};
\node[anchor=base west] at (632,457) {Std Dev x};
\node[anchor=base east] at (775,457) {0.363};
\node[anchor=base west] at (632,433) {Std Dev y};
\node[anchor=base east] at (775,433) {4.148};
\end{scope}
\end{tikzpicture}
\end{document}
